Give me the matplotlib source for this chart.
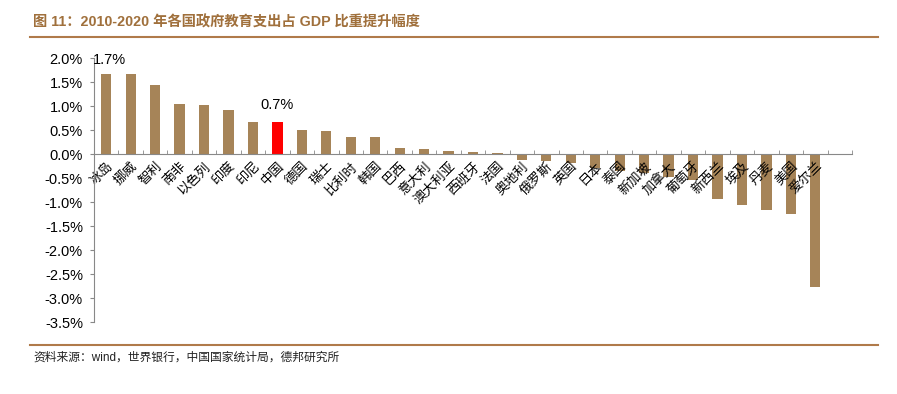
import matplotlib as mpl
mpl.use('Agg')

import numpy as np
import matplotlib.pyplot as plt

plt.rcParams['font.family'] = ['Liberation Sans', 'Noto Sans CJK SC', 'DejaVu Sans']

# Data (change of education spending share of GDP, 2010-2020, %)
countries = ['冰岛', '挪威', '智利', '南非', '以色列', '印度', '印尼', '中国', '德国', '瑞士',
             '比利时', '韩国', '巴西', '意大利', '澳大利亚', '西班牙', '法国', '奥地利', '俄罗斯', '英国',
             '日本', '泰国', '新加坡', '加拿大', '葡萄牙', '新西兰', '埃及', '丹麦', '美国', '爱尔兰', '']
changes = [1.67, 1.66, 1.43, 1.04, 1.02, 0.91, 0.67, 0.67, 0.49, 0.48,
           0.36, 0.35, 0.12, 0.10, 0.06, 0.04, 0.03, -0.13, -0.15, -0.18,
           -0.30, -0.36, -0.40, -0.47, -0.54, -0.94, -1.07, -1.17, -1.26, -2.78, np.nan]
highlight = '中国'
yticks = [2.0, 1.5, 1.0, 0.5, 0.0, -0.5, -1.0, -1.5, -2.0, -2.5, -3.0, -3.5]

brown = '#A68458'
title_color = '#A0703C'
rule_color = '#B07A4A'

fig = plt.figure(figsize=(8.97, 3.94), dpi=100)
ax = fig.add_axes([94 / 897, 1 - 322 / 394, (852 - 94) / 897, (322 - 58) / 394])

x = np.arange(len(countries))
colors = ['#FF0000' if c == highlight else brown for c in countries]
ax.bar(x, changes, width=0.42, color=colors)

ax.set_xlim(-0.5, len(countries) - 0.5)
ax.set_ylim(-3.5, 2.0)
ax.set_yticks(yticks)
ax.set_yticklabels([f'{v:.1f}%' for v in yticks], fontsize=10.5)

for side in ['top', 'right']:
    ax.spines[side].set_visible(False)
ax.spines['bottom'].set_position(('data', 0))
ax.spines['bottom'].set_color('#888888')
ax.spines['left'].set_color('#888888')

ax.set_xticks(x)
ax.set_xticklabels(countries, rotation=45, ha='right', va='top',
                   rotation_mode='anchor', fontsize=9.5, family='Noto Sans CJK SC')
ax.tick_params(axis='x', which='major', length=0, pad=4)
ax.set_xticks(np.arange(len(countries) + 1) - 0.5, minor=True)
ax.tick_params(axis='x', which='minor', length=3, direction='in', color='#888888')
ax.tick_params(axis='y', length=3, color='#888888', pad=5)

# data labels
i0 = 0
ax.text(x[i0] - 0.55, 1.95, f'{changes[i0]:.1f}%', fontsize=10.5,
        ha='left', va='center')
ic = countries.index(highlight)
ax.text(x[ic], changes[ic] + 0.2, f'{changes[ic]:.1f}%', fontsize=10.5,
        ha='center', va='bottom')

# title, rules, source
fig.text(33 / 897, 1 - 22 / 394, '图 11：2010-2020 年各国政府教育支出占 GDP 比重提升幅度',
         fontsize=10.3, fontweight='bold', color=title_color, va='center')
fig.add_artist(plt.Line2D([30 / 897, 878 / 897], [1 - 37 / 394] * 2, color=rule_color, lw=1.5))
fig.add_artist(plt.Line2D([30 / 897, 878 / 897], [1 - 345 / 394] * 2, color=rule_color, lw=1.5))
fig.text(33 / 897, 1 - 358 / 394, '资料来源：wind，世界银行，中国国家统计局，德邦研究所',
         fontsize=8.5, color='#222222', va='center')

plt.savefig('out.png', dpi=100)
